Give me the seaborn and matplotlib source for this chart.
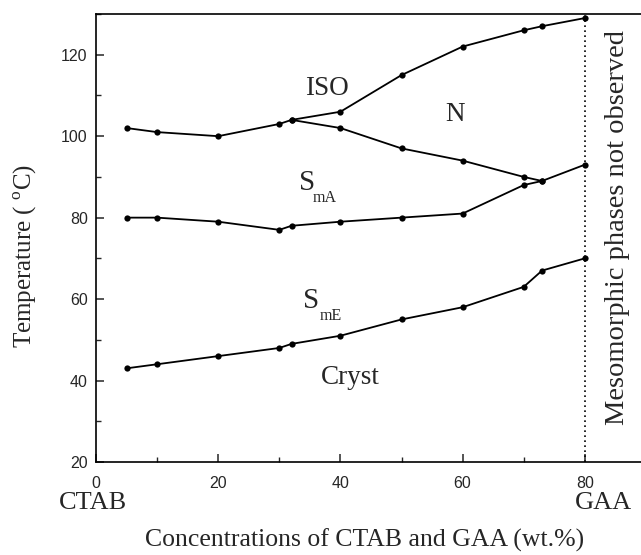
import matplotlib
matplotlib.use("Agg")
import matplotlib.pyplot as plt
import seaborn as sns
import pandas as pd
from matplotlib.ticker import MultipleLocator
import matplotlib.transforms as mtransforms

sns.set_theme(style="white")
plt.rcParams['font.family'] = ['Liberation Sans', 'DejaVu Sans']
plt.rcParams['mathtext.fontset'] = 'custom'
plt.rcParams['mathtext.rm'] = 'Liberation Serif'

# Data (wt.% vs temperature in °C)
x_full = [5, 10, 20, 30, 32, 40, 50, 60, 70, 73, 80]
iso_upper = [102, 101, 100, 103, 104, 106, 115, 122, 126, 127, 129]
x_n = [32, 40, 50, 60, 70, 73]
n_lower = [104, 102, 97, 94, 90, 89]
sma_lower = [80, 80, 79, 77, 78, 79, 80, 81, 88, 89, 93]
cryst_upper = [43, 44, 46, 48, 49, 51, 55, 58, 63, 67, 70]

x_ticks = [0, 20, 40, 60, 80]
y_ticks = [20, 40, 60, 80, 100, 120]

series = {
    "iso": (x_full, iso_upper),
    "n": (x_n, n_lower),
    "sma": (x_full, sma_lower),
    "cryst": (x_full, cryst_upper),
}

fig = plt.figure(figsize=(6.41, 5.55), dpi=100)
ax = fig.add_axes([96/641, 93/555, 560/641, 448/555])

for name, (xs, ys) in series.items():
    df = pd.DataFrame({"x": xs, "y": ys})
    sns.lineplot(data=df, x="x", y="y", ax=ax, sort=False, color="black",
                 marker="o", markersize=4.5, markeredgewidth=0, linewidth=1.3)

ax.axvline(80, color="black", linestyle=(0, (1, 2)), linewidth=1.2)

ax.set_xlim(0, 560/6.11)
ax.set_ylim(20, 130)
ax.set_xticks(x_ticks)
ax.set_yticks(y_ticks)
ax.xaxis.set_minor_locator(MultipleLocator(10))
ax.yaxis.set_minor_locator(MultipleLocator(10))
ax.tick_params(which="major", direction="in", length=6, width=1.1,
               labelsize=11.5, top=False, right=False)
ax.tick_params(which="minor", direction="in", length=3.5, width=1.0,
               top=False, right=False)
ax.tick_params(axis="x", which="major", pad=10)
ax.tick_params(axis="y", which="major", pad=6)
ax.tick_params(axis="x", which="both", bottom=True)
ax.tick_params(axis="y", which="both", left=True)
for s in ax.spines.values():
    s.set_linewidth(1.2)
    s.set_color("black")
ax.spines["right"].set_visible(False)

serif = ['Liberation Serif', 'DejaVu Serif']
ax.set_xlabel("Concentrations of CTAB and GAA (wt.%)", family=serif,
              fontsize=18.5)
ax.xaxis.label.set_va("center")
ax.xaxis.set_label_coords((365 - 96) / 560, (462 - 540) / 448)
ax.set_ylabel("Temperature ( $^{\\rm o}$C)", family=serif, fontsize=18)
ax.yaxis.label.set_va("center")
ax.yaxis.set_label_coords((25 - 96) / 560, (462 - 256) / 448)

trans = mtransforms.blended_transform_factory(ax.transData, ax.transAxes)
ax.text(-0.5, (462 - 503) / 448, "CTAB", transform=trans, family=serif,
        fontsize=19, ha="center", va="center")
ax.text(83, (462 - 503) / 448, "GAA", transform=trans, family=serif,
        fontsize=19, ha="center", va="center")

ax.text(37.8, 111.8, "ISO", family=serif, fontsize=19.5, ha="center", va="center")
ax.text(58.8, 105.3, "N", family=serif, fontsize=19.5, ha="center", va="center")
ax.text(34.5, 88.4, "S", family=serif, fontsize=21, ha="center", va="center")
ax.text(37.4, 84.7, "mA", family=serif, fontsize=11.5, ha="center", va="center")
ax.text(35.2, 59.5, "S", family=serif, fontsize=21, ha="center", va="center")
ax.text(38.4, 55.8, "mE", family=serif, fontsize=11.5, ha="center", va="center")
ax.text(41.7, 41.6, "Cryst", family=serif, fontsize=19.5, ha="center",
        va="center_baseline")
ax.text(85.4, 77.5, "Mesomorphic phases not observed", family=serif,
        fontsize=20.5, rotation=90, ha="center", va="center")

fig.savefig("out.png", dpi=100)
